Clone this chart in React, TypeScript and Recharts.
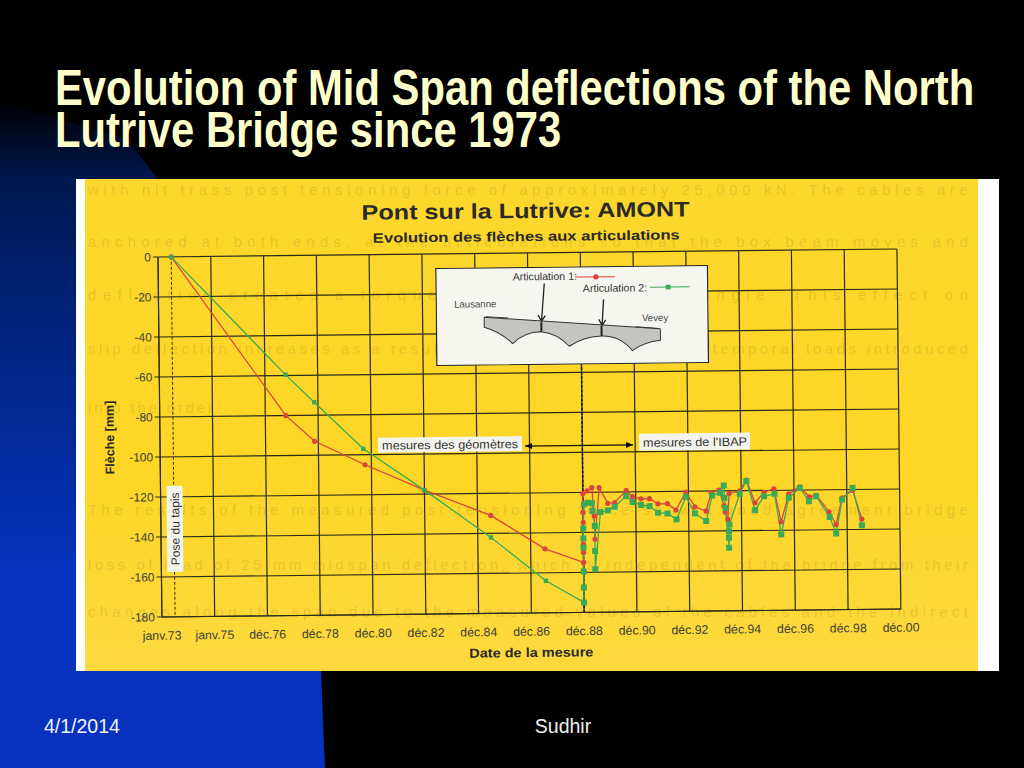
import React from "react";
import { LineChart, Line, XAxis, YAxis, CartesianGrid, ReferenceLine } from "recharts";

const slideTitle = ["Evolution of Mid Span deflections of the North", "Lutrive Bridge since 1973"];
const xTickPositions = [0, 1, 2, 3, 4, 5, 6, 7, 8, 9, 10, 11, 12, 13, 14];
const xTickLabels = ["janv.73", "janv.75", "déc.76", "déc.78", "déc.80", "déc.82", "déc.84", "déc.86", "déc.88", "déc.90", "déc.92", "déc.94", "déc.96", "déc.98", "déc.00"];
const yTicks = [0, -20, -40, -60, -80, -100, -120, -140, -160, -180];

const redDates = [0.25, 2.39, 2.93, 3.88, 5.0, 6.25, 7.27, 8, 8, 8, 8, 8, 8, 8.08, 8.17, 8.21, 8.22, 8.31, 8.47, 8.6, 8.82, 8.94, 9.1, 9.26, 9.42, 9.6, 9.76, 9.95, 10.12, 10.33, 10.43, 10.58, 10.67, 10.69, 10.74, 10.77, 10.97, 11.1, 11.26, 11.43, 11.62, 11.75, 11.9, 12.11, 12.29, 12.42, 12.66, 12.79, 12.91, 13.11, 13.28];
const redValues = [0, -80, -93, -105, -118, -131, -148, -155, -150, -145.8, -135, -130, -120.6, -119.3, -117.7, -131.9, -143.5, -117.7, -125.6, -125.3, -119.2, -122.4, -123.5, -123.5, -126.1, -126.1, -129.3, -120.4, -127.8, -130, -120.9, -119.6, -127.6, -130.6, -134.3, -121.3, -120.2, -114.7, -126.1, -120.9, -119.2, -135.8, -121.8, -118.4, -123.5, -122.7, -131, -137.4, -124.1, -120.4, -134.8];

const greenDates = [0.25, 2.39, 2.93, 3.85, 5.0, 6.25, 7.28, 8, 8, 8, 8, 8, 8, 8.02, 8.09, 8.17, 8.18, 8.22, 8.22, 8.22, 8.33, 8.47, 8.6, 8.82, 8.94, 9.1, 9.26, 9.42, 9.6, 9.77, 9.95, 10.12, 10.33, 10.45, 10.6, 10.67, 10.68, 10.7, 10.76, 10.76, 10.76, 10.77, 10.97, 11.1, 11.26, 11.43, 11.63, 11.75, 11.9, 12.11, 12.28, 12.42, 12.67, 12.79, 12.91, 13.11, 13.28];
const greenValues = [0, -59.5, -73.5, -97, -118, -142, -164, -175, -167.5, -159.5, -147.5, -143, -138, -126, -125.2, -125.5, -129.3, -136.9, -149.4, -158.5, -129.9, -129.1, -127.3, -122, -125.1, -126.6, -127.2, -130.6, -131, -134, -122.7, -131.1, -135, -122.2, -120.9, -117.3, -123.5, -128.5, -148.5, -143.5, -140.2, -136.8, -121.5, -115.2, -129.8, -122.9, -121.7, -142.1, -123.8, -118.9, -125.6, -123.2, -133.6, -141.9, -125, -119.2, -137.9];

const ghostLines = [
  "with nit trass post tensioning force of approximately 25,000 kN. The cables are",
  "anchored at both ends, at the articulations so that the box beam moves and",
  "deflection creates a torque that forms a small angle. This effect on",
  "slip deflection increases as a result of the additional force of temporal loads introduced",
  "into the order",
  "The results of the measured post-tensioning force show a good agreement bridge",
  "loss of load of 25 mm midspan deflection, which is independent of the bridge from their",
  "changes along the span due to the measured values of the cables and the indirect",
];
const ghostBaselines = [195, 247, 300, 354, 413, 515, 570, 617];

const redData = redDates.map((u, i) => ({ u, v: redValues[i] }));
const greenData = greenDates.map((u, i) => ({ u, v: greenValues[i] }));

const sans = "'Liberation Sans', Arial, sans-serif";
const RED = "#d9443e";
const GREEN = "#38aa58";

const SquareDot = (props: any) => {
  const { cx, cy, index } = props;
  const s = index < 7 ? 4.4 : 6;
  return <rect key={index} x={cx - s / 2} y={cy - s / 2} width={s} height={s} fill={GREEN} />;
};

const Inset = () => (
  <svg x={435} y={271} width={273} height={98} viewBox="45 55 820 295">
    <rect x={46} y={56} width={818} height={293} fill="#f6f6f0" stroke="#222" strokeWidth={4} />
    <text x={277} y={95} fontSize={32} fill="#333">Articulation 1:</text>
    <line x1={465} x2={585} y1={87} y2={87} stroke={RED} strokeWidth={3} />
    <circle cx={528} cy={87} r={8} fill={RED} />
    <text x={488} y={132} fontSize={32} fill="#333">Articulation 2:</text>
    <line x1={690} x2={810} y1={120} y2={120} stroke={GREEN} strokeWidth={3} />
    <rect x={738} y={113} width={14} height={14} fill={GREEN} />
    <text x={100} y={175} fontSize={29} fill="#444">Lausanne</text>
    <text x={665} y={222} fontSize={29} fill="#444">Vevey</text>
    <path d="M190,205 L720,245 L720,280 Q670,285 635,310 Q600,265 545,265 Q490,265 445,295 Q410,255 360,250 Q310,250 275,285 Q240,250 190,235 Z" fill="#c4c4c0" />
    <path d="M190,205 L720,245 M720,245 L720,280 Q670,285 635,310 Q600,265 545,265 Q490,265 445,295 Q410,255 360,250 Q310,250 275,285 Q240,250 190,235 L190,205" fill="none" stroke="#333" strokeWidth={3} />
    <path d="M372,105 L363,215 M352,200 L363,218 L374,202 M550,155 L545,230 M535,215 L545,233 L556,217" fill="none" stroke="#222" strokeWidth={4} />
    <path d="M362,222 L362,250 M543,235 L543,265" stroke="#222" strokeWidth={6} />
    <path d="M195,203 L262,208 M645,238 L715,244" stroke="#333" strokeWidth={3} />
  </svg>
);

const Overlay = () => (
  <svg width={1024} height={768} style={{ position: "absolute", left: 0, top: 0, pointerEvents: "none" }} fontFamily={sans}>
    <text x={362} y={222} textLength={328} lengthAdjust="spacingAndGlyphs" fontSize={21} fontWeight={700} fill="#2a2a2a">Pont sur la Lutrive: AMONT</text>
    <text x={373} y={245} textLength={307} lengthAdjust="spacingAndGlyphs" fontSize={13.5} fontWeight={700} fill="#2a2a2a">Evolution des flèches aux articulations</text>
    <Inset />
    <text transform="translate(112,437) rotate(-90)" textAnchor="middle" fontSize={12.5} fontWeight={700} fill="#2a2a2a">Flèche [mm]</text>
    <text x={465} y={661} textLength={124} lengthAdjust="spacingAndGlyphs" fontSize={13} fontWeight={700} fill="#2a2a2a">Date de la mesure</text>
    <rect x={164} y={486} width={16} height={86} fill="#f4f4ee" />
    <text transform="translate(176.5,529) rotate(-90)" textAnchor="middle" fontSize={12} fill="#333">Pose du tapis</text>
    <rect x={376} y={440} width={144} height={15} fill="#f4f4ee" />
    <text x={380} y={452} textLength={136} lengthAdjust="spacingAndGlyphs" fontSize={12} fill="#333">mesures des géomètres</text>
    <rect x={637} y={439} width={111} height={17} fill="#f4f4ee" />
    <text x={641} y={452} textLength={104} lengthAdjust="spacingAndGlyphs" fontSize={12} fill="#333">mesures de l'IBAP</text>
    <path d="M523,450 L631,450" stroke="#111" strokeWidth={1.3} />
    <path d="M523,450 L530,447 L530,453 Z M631,450 L624,447 L624,453 Z" fill="#111" />
  </svg>
);

export default function App() {
  return (
    <div style={{ position: "fixed", left: 0, top: 0, width: 1024, height: 768, background: "#000", overflow: "hidden", fontFamily: sans }}>
      <div style={{ position: "absolute", inset: 0, background: "linear-gradient(180deg,#000 100px,#00174f 180px,#002070 280px,#0632be 570px)", clipPath: "polygon(0 100px,128px 140px,158px 179px,321px 671px,325px 768px,0 768px)" }} />
      <svg width={1024} height={170} style={{ position: "absolute", left: 0, top: 0 }} fontFamily={sans} fontWeight={700} fill="#ffffcc">
        <text transform="translate(55,105) scale(1,1.196)" fontSize={41.8}>{slideTitle[0]}</text>
        <text transform="translate(55,147) scale(1,1.196)" fontSize={41.8}>{slideTitle[1]}</text>
      </svg>
      <div style={{ position: "absolute", left: 76, top: 179, width: 923, height: 492, background: "#fff" }}>
        <div style={{ position: "absolute", left: 9, top: 0, width: 893, height: 492, background: "linear-gradient(180deg,#fdd72c 0%,#fdd626 60%,#fdd93e 100%)", overflow: "hidden" }} />
      </div>
      <svg width={1024} height={768} style={{ position: "absolute", left: 0, top: 0, filter: "blur(0.7px)" }} fontFamily={sans} fontSize={15} fill="rgba(120,100,40,0.17)">
        {ghostLines.map((t, i) => (
          <text key={i} x={88} y={ghostBaselines[i]} textLength={i === 4 ? 125 : 880} lengthAdjust="spacing">{t}</text>
        ))}
      </svg>
      <div style={{ position: "absolute", left: 0, top: 0, width: 1024, height: 768, transform: "rotate(-0.62deg)", transformOrigin: "158px 257px" }}>
        <LineChart width={1024} height={768} margin={{ left: 118, top: 257, right: 127, bottom: 121 }} style={{ position: "absolute", left: 0, top: 0 }}>
          <CartesianGrid stroke="#2a2a1a" strokeWidth={1.2} />
          <XAxis type="number" dataKey="u" domain={[0, 14]} ticks={xTickPositions} interval={0} height={30} tickLine={false} axisLine={{ stroke: "#2a2a1a" }} tickMargin={8} tick={{ fontSize: 12.3, fill: "#404038", fontFamily: sans }} tickFormatter={(v: number) => xTickLabels[v]} />
          <YAxis type="number" domain={[-180, 0]} ticks={yTicks} interval={0} width={40} tickSize={5} axisLine={{ stroke: "#2a2a1a" }} tickLine={{ stroke: "#2a2a1a" }} tickMargin={2} tick={{ fontSize: 12, fill: "#404038", fontFamily: sans }} />
          <ReferenceLine segment={[{ x: 0.25, y: 0 }, { x: 0.25, y: -180 }]} stroke="#3a2a10" strokeDasharray="3 2" />
          <ReferenceLine segment={[{ x: 8, y: -55 }, { x: 8, y: -180 }]} stroke="#111" strokeWidth={1.5} strokeDasharray="3 1.5" />
          <Line data={redData} dataKey="v" stroke={RED} strokeWidth={1.3} dot={{ r: 2.6, fill: RED, stroke: RED, strokeWidth: 0 }} isAnimationActive={false} />
          <Line data={greenData} dataKey="v" stroke={GREEN} strokeWidth={1.3} dot={<SquareDot />} isAnimationActive={false} />
        </LineChart>
        <Overlay />
      </div>
      <div style={{ position: "absolute", left: 44, top: 715, fontSize: 19.5, color: "#f0f4ff" }}>4/1/2014</div>
      <div style={{ position: "absolute", left: 463, width: 200, textAlign: "center", top: 715, fontSize: 19.5, color: "#f0f0f0" }}>Sudhir</div>
    </div>
  );
}
